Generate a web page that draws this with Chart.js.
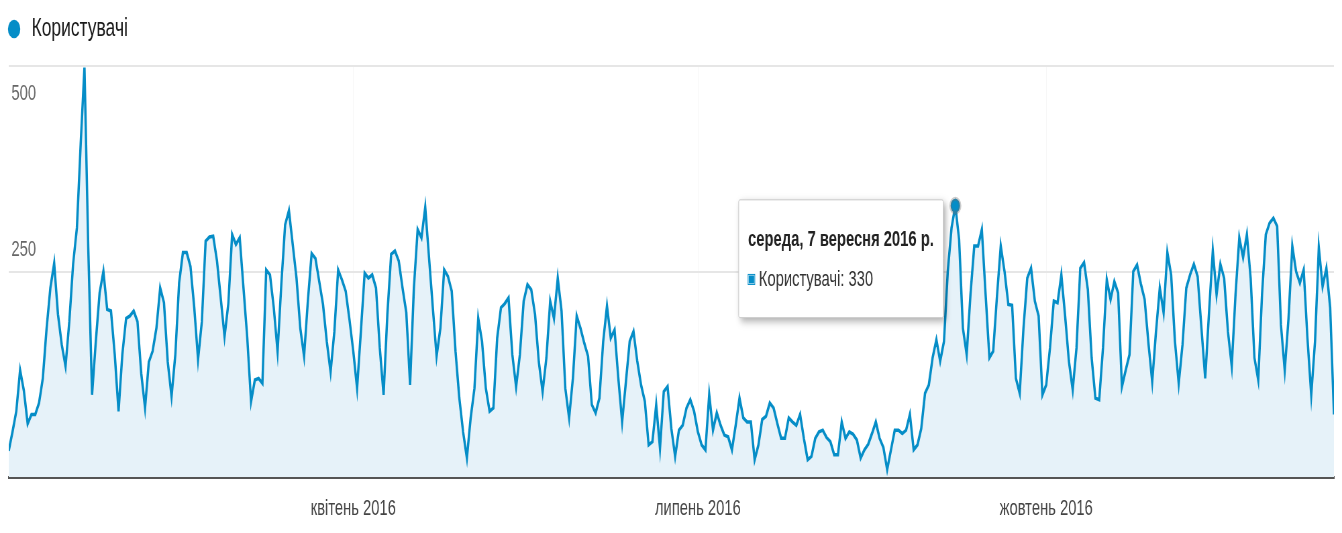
<!DOCTYPE html>
<html lang="uk">
<head>
<meta charset="utf-8">
<title>Користувачі 2016</title>
<script src="https://cdn.jsdelivr.net/npm/chart.js@4.4.1/dist/chart.umd.min.js"></script>
<style>
  html, body { margin: 0; padding: 0; background: #fff; }
</style>
</head>
<body>
<!-- the source screenshot is squeezed sideways, so draw wide and squeeze it too -->
<canvas id="chart" width="2000" height="533" style="display:block;width:1342px;height:533px"></canvas>
<script>
// daily users, 1 Jan 2016 .. 16 Dec 2016, one line per month
const users = [
  32, 55, 80, 130, 105, 65, 76, 76, 90, 120, 181, 230, 260, 198, 161, 135, 189, 259, 303, 405, 498, 280, 100, 165, 224, 250, 204, 202, 149, 80, 149,
  193, 196, 202, 189, 126, 84, 140, 153, 181, 230, 212, 140, 98, 149, 236, 273, 273, 256, 206, 143, 189, 287, 292, 293, 263, 217, 171, 211, 295,
  283, 291, 230, 169, 92, 118, 120, 114, 252, 246, 206, 153, 235, 307, 324, 283, 242, 181, 147, 214, 272, 266, 238, 210, 165, 128, 177, 252, 240, 226, 191,
  153, 108, 177, 248, 242, 246, 230, 157, 100, 198, 271, 275, 263, 230, 200, 112, 230, 301, 291, 328, 267, 206, 147, 181, 252, 244, 226, 153, 96, 55,
  23, 72, 108, 193, 165, 108, 80, 84, 169, 206, 211, 218, 149, 110, 149, 214, 234, 228, 198, 140, 104, 145, 214, 193, 242, 202, 108, 72, 120, 196, 181,
  163, 147, 88, 78, 96, 165, 208, 169, 179, 120, 67, 116, 165, 177, 141, 112, 92, 39, 43, 88, 35, 104, 110, 59, 25, 57, 63, 84, 94, 80,
  55, 39, 33, 100, 57, 78, 63, 51, 49, 33, 63, 96, 72, 67, 67, 21, 39, 70, 74, 90, 84, 65, 47, 47, 72, 67, 63, 76, 47, 21, 25,
  47, 55, 57, 48, 43, 27, 27, 67, 47, 55, 52, 45, 23, 33, 40, 53, 67, 47, 36, 9, 33, 57, 57, 53, 57, 76, 33, 39, 59, 102, 112,
  145, 167, 141, 165, 250, 303, 330, 289, 181, 149, 222, 281, 281, 301, 222, 145, 153, 220, 281, 250, 210, 209, 120, 102, 181, 242, 254, 214, 196, 100,
  112, 157, 214, 212, 246, 196, 141, 106, 157, 254, 261, 228, 145, 96, 94, 157, 240, 216, 238, 224, 110, 130, 149, 250, 258, 235, 216, 163, 116, 177, 230,
  200, 273, 246, 165, 114, 161, 230, 246, 259, 244, 181, 120, 200, 275, 222, 259, 242, 177, 135, 222, 291, 267, 295, 242, 145, 118, 222, 295, 309, 315,
  305, 185, 130, 193, 281, 250, 236, 252, 169, 100, 165, 279, 232, 254, 206, 76
];

// x axis: day number from 1 Jan 2016 where each month label sits
const tickDays = [91, 182, 274];
const tickLabels = ['квітень 2016', 'липень 2016', 'жовтень 2016'];

// y axis
const yTickValues = [250, 500];
const yTickLabels = ['250', '500'];

const seriesName = 'Користувачі';
const tooltipDay = 250; // середа, 7 вересня

const weekdays = ['неділя', 'понеділок', 'вівторок', 'середа', 'четвер', 'пʼятниця', 'субота'];
const monthsGen = ['січня', 'лютого', 'березня', 'квітня', 'травня', 'червня', 'липня', 'серпня', 'вересня', 'жовтня', 'листопада', 'грудня'];

const blue = '#058dc7';
const fontFamily = '"Liberation Sans", Arial, sans-serif';

function dayTitle(i) {
    const d = new Date(2016, 0, 1 + i);
    return `${weekdays[d.getDay()]}, ${d.getDate()} ${monthsGen[d.getMonth()]} ${d.getFullYear()} р.`;
}

// push the plot down under the legend
const legendGap = {
    id: 'legendGap',
    beforeInit(chart) {
        const fit = chart.legend.fit;
        chart.legend.fit = function () {
            fit.call(this);
            this.height += 14;
        };
    }
};

// GA puts the value labels inside the plot, the top one hangs under its line
const yLabels = {
    id: 'yLabels',
    beforeDatasetsDraw(chart) {
        const y = chart.scales.y;
        const ctx = chart.ctx;
        ctx.save();
        ctx.font = '22px ' + fontFamily;
        ctx.fillStyle = '#666';
        ctx.textBaseline = 'middle';
        yTickValues.forEach((v, i) => {
            const py = y.getPixelForValue(v);
            const dy = v === y.max ? 28 : -22;
            ctx.fillText(yTickLabels[i], chart.chartArea.left + 4, py + dy);
        });
        ctx.restore();
    }
};

// soft drop shadow under the tooltip box
const tipShadow = {
    id: 'tipShadow',
    beforeTooltipDraw(chart, args) {
        const t = args.tooltip;
        if (!t.opacity) return;
        const ctx = chart.ctx;
        ctx.save();
        ctx.shadowColor = 'rgba(0,0,0,0.35)';
        ctx.shadowBlur = 8;
        ctx.shadowOffsetX = 3;
        ctx.shadowOffsetY = 3;
        ctx.fillStyle = '#fff';
        ctx.fillRect(t.x, t.y, t.width, t.height);
        ctx.restore();
    }
};

Chart.Tooltip.positioners.besidePoint = function (items) {
    if (!items.length) return false;
    const el = items[0].element;
    return { x: el.x, y: el.y + 53 };
};

Chart.defaults.font.family = fontFamily;

const ctx = document.getElementById('chart').getContext('2d');
const chart = new Chart(ctx, {
    type: 'line',
    data: {
        datasets: [{
            label: seriesName,
            data: users.map((v, i) => ({ x: i, y: v })),
            borderColor: blue,
            borderWidth: 3.5,
            backgroundColor: '#e6f2f9',
            fill: 'origin',
            tension: 0,
            pointRadius: 0,
            pointBackgroundColor: blue,
            pointBorderWidth: 0,
            pointHoverRadius: 7,
            pointHoverBackgroundColor: blue,
            pointHoverBorderColor: 'rgba(110,110,110,0.35)',
            pointHoverBorderWidth: 4
        }]
    },
    options: {
        responsive: false,
        devicePixelRatio: 1,
        animation: false,
        events: [],
        layout: { padding: { top: 8, right: 12, bottom: 11, left: 0 } },
        scales: {
            x: {
                type: 'linear',
                min: 0,
                max: users.length - 1,
                z: 1,
                afterBuildTicks: (scale) => {
                    scale.ticks = tickDays.map(v => ({ value: v }));
                },
                afterFit: (scale) => { scale.height = 45; },
                ticks: {
                    autoSkip: false,
                    maxRotation: 0,
                    padding: 19,
                    color: '#444',
                    font: { size: 22 },
                    callback: (value) => tickLabels[tickDays.indexOf(value)]
                },
                grid: { color: 'rgba(0,0,0,0.035)', drawTicks: false },
                border: { color: '#555', width: 3 }
            },
            y: {
                min: 0,
                max: 500,
                afterBuildTicks: (scale) => {
                    scale.ticks = [0].concat(yTickValues).map(v => ({ value: v }));
                },
                afterFit: (scale) => { scale.width = 13; },
                ticks: { display: false },
                grid: {
                    color: (c) => (c.tick && c.tick.value === 0 ? 'rgba(0,0,0,0)' : '#e6e6e6'),
                    lineWidth: 2,
                    drawTicks: false
                },
                border: { display: false }
            }
        },
        plugins: {
            legend: {
                position: 'top',
                align: 'start',
                labels: {
                    usePointStyle: true,
                    pointStyle: 'circle',
                    boxWidth: 26,
                    boxHeight: 13,
                    padding: 8,
                    color: '#1a1a1a',
                    font: { size: 26 }
                }
            },
            tooltip: {
                position: 'besidePoint',
                xAlign: 'right',
                yAlign: 'center',
                caretSize: 0,
                caretPadding: 18,
                backgroundColor: '#fff',
                borderColor: '#c8c8c8',
                borderWidth: 1,
                cornerRadius: 2,
                titleColor: '#222',
                titleFont: { size: 22, weight: 'bold' },
                titleMarginBottom: 13,
                bodyColor: '#333',
                bodyFont: { size: 22 },
                padding: { top: 27, bottom: 25, left: 14, right: 14 },
                boxWidth: 10,
                boxHeight: 10,
                boxPadding: 4,
                callbacks: {
                    title: (items) => dayTitle(items[0].parsed.x),
                    label: (item) => `${seriesName}: ${item.parsed.y}`,
                    labelColor: () => ({ borderColor: blue, backgroundColor: blue, borderWidth: 0 })
                }
            }
        }
    },
    plugins: [legendGap, yLabels, tipShadow]
});

const active = [{ datasetIndex: 0, index: tooltipDay }];
chart.setActiveElements(active);
chart.tooltip.setActiveElements(active, { x: 0, y: 0 });
chart.update();
</script>
</body>
</html>
